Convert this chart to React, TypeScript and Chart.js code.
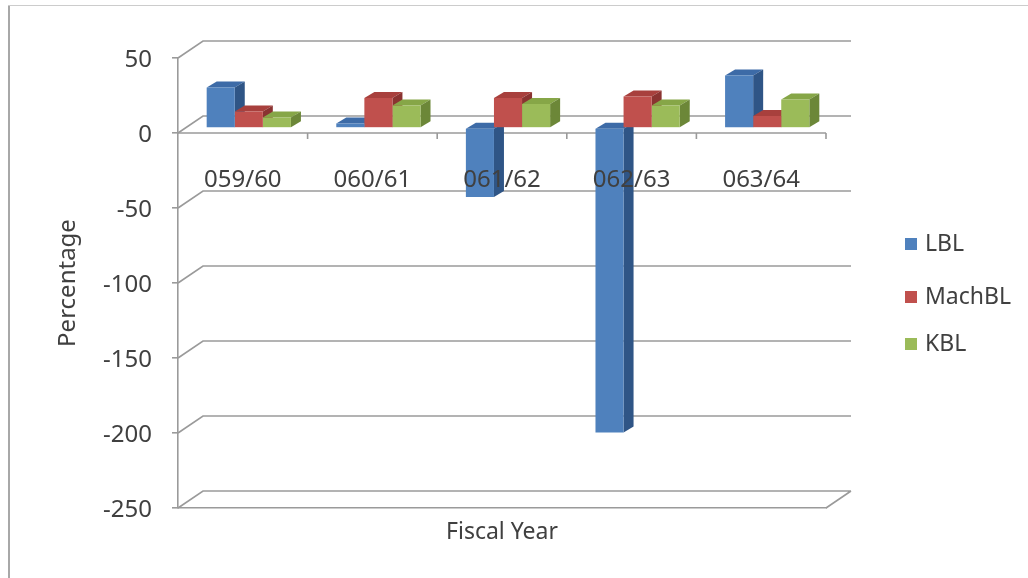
import React, { useEffect, useRef } from 'react';
import { Chart, registerables } from 'chart.js';

Chart.register(...registerables);

// ---- data ----
const categories = ['059/60', '060/61', '061/62', '062/63', '063/64'];
const seriesNames = ['LBL', 'MachBL', 'KBL'];
const lblValues = [27, 3, -46, -203, 35];
const machblValues = [11, 20, 20, 21, 8];
const kblValues = [7, 15, 16, 15, 19];
const yTicksMin = -250;
const yTicksMax = 50;
const yTicksStep = 50;

// ---- style ----
const W = 1028;
const H = 578;
const FONT = "'Noto Sans', 'DejaVu Sans', sans-serif";
const TEXT = '#404040';
const LINE = '#9a9a9a';

const faces = [
  { front: '#4F81BD', top: '#3d6ba7', side: '#2f5586' },
  { front: '#C0504D', top: '#a8403d', side: '#8a3331' },
  { front: '#9BBB59', top: '#86a647', side: '#6c8738' },
];

// oblique depth offsets (pixels)
const WALL = { dx: 25, dy: -17 };
const BAR_SHIFT = { dx: 6, dy: -5 };
const BAR_DEPTH = { dx: 10, dy: -6 };

function fillPoly(ctx: CanvasRenderingContext2D, pts: number[][], color: string) {
  ctx.beginPath();
  ctx.moveTo(pts[0][0], pts[0][1]);
  for (let i = 1; i < pts.length; i++) ctx.lineTo(pts[i][0], pts[i][1]);
  ctx.closePath();
  ctx.fillStyle = color;
  ctx.fill();
}

const depthPlugin = {
  id: 'depth3d',
  beforeDraw(chart: any) {
    const ctx: CanvasRenderingContext2D = chart.ctx;
    ctx.save();
    ctx.fillStyle = '#ffffff';
    ctx.fillRect(0, 0, chart.width, chart.height);
    // outer frame (left and top edges)
    ctx.strokeStyle = '#a8a8a8';
    ctx.lineWidth = 2;
    ctx.beginPath();
    ctx.moveTo(9, chart.height);
    ctx.lineTo(9, 5);
    ctx.stroke();
    ctx.strokeStyle = '#cccccc';
    ctx.lineWidth = 1.2;
    ctx.beginPath();
    ctx.moveTo(8, 5.5);
    ctx.lineTo(chart.width, 5.5);
    ctx.stroke();
    ctx.restore();
  },
  beforeDatasetsDraw(chart: any) {
    const ctx: CanvasRenderingContext2D = chart.ctx;
    const { left, right } = chart.chartArea;
    const x = chart.scales.x;
    const y = chart.scales.y;

    // back wall gridlines with their side-wall diagonals, plus floor
    ctx.save();
    ctx.strokeStyle = LINE;
    ctx.lineWidth = 1.6;
    y.ticks.forEach((t: any) => {
      const py = y.getPixelForValue(t.value);
      ctx.beginPath();
      ctx.moveTo(left, py);
      ctx.lineTo(left + WALL.dx, py + WALL.dy);
      ctx.lineTo(right + WALL.dx, py + WALL.dy);
      if (t.value === yTicksMin) {
        ctx.moveTo(right, py);
        ctx.lineTo(right + WALL.dx, py + WALL.dy);
      }
      ctx.stroke();
    });

    // front category axis at zero with tick marks between categories
    const y0 = y.getPixelForValue(0);
    ctx.beginPath();
    ctx.moveTo(left, y0);
    ctx.lineTo(right, y0);
    for (let i = 1; i <= categories.length; i++) {
      const bx = i < categories.length
        ? (x.getPixelForValue(i - 1) + x.getPixelForValue(i)) / 2
        : right;
      ctx.moveTo(bx, y0);
      ctx.lineTo(bx, y0 + 6);
    }
    ctx.stroke();
    ctx.restore();

    // top and side faces of the columns; the front faces are drawn by the
    // bar controller inside the same shifted frame
    ctx.save();
    ctx.translate(BAR_SHIFT.dx, BAR_SHIFT.dy);
    chart.data.datasets.forEach((ds: any, di: number) => {
      const meta = chart.getDatasetMeta(di);
      const f = faces[di];
      meta.data.forEach((bar: any) => {
        const p = bar.getProps(['x', 'y', 'base', 'width'], true);
        const l = p.x - p.width / 2;
        const r = p.x + p.width / 2;
        const top = Math.min(p.y, p.base);
        const bot = Math.max(p.y, p.base);
        const { dx, dy } = BAR_DEPTH;
        fillPoly(ctx, [[l, top], [l + dx, top + dy], [r + dx, top + dy], [r, top]], f.top);
        fillPoly(ctx, [[r, top], [r + dx, top + dy], [r + dx, bot + dy], [r, bot]], f.side);
      });
    });
  },
  afterDatasetsDraw(chart: any) {
    const ctx: CanvasRenderingContext2D = chart.ctx;
    ctx.restore();

    const x = chart.scales.x;
    const y = chart.scales.y;
    const y0 = y.getPixelForValue(0);

    // category labels sit just under the zero line, over the columns
    ctx.save();
    ctx.font = `24px ${FONT}`;
    ctx.fillStyle = TEXT;
    ctx.textAlign = 'center';
    ctx.textBaseline = 'middle';
    categories.forEach((c, i) => {
      ctx.fillText(c, x.getPixelForValue(i), y0 + 47);
    });

    // legend
    const legendY = [244, 297, 344];
    ctx.font = `23px ${FONT}`;
    ctx.textAlign = 'left';
    chart.data.datasets.forEach((ds: any, di: number) => {
      const cy = legendY[di];
      ctx.fillStyle = faces[di].front;
      ctx.fillRect(905, cy - 6, 12, 12);
      ctx.fillStyle = TEXT;
      ctx.fillText(ds.label, 925, cy);
    });
    ctx.restore();
  },
};

export default function App() {
  const canvasRef = useRef<HTMLCanvasElement | null>(null);

  useEffect(() => {
    document.body.style.margin = '0';
    const canvas = canvasRef.current;
    if (!canvas) return;
    const seriesValues = [lblValues, machblValues, kblValues];
    const chart = new Chart(canvas, {
      type: 'bar',
      data: {
        labels: categories,
        datasets: seriesNames.map((name, i) => ({
          label: name,
          data: seriesValues[i],
          backgroundColor: faces[i].front,
          borderWidth: 0,
          categoryPercentage: 0.65,
          barPercentage: 1,
        })),
      },
      options: {
        animation: false,
        responsive: false,
        devicePixelRatio: 1,
        layout: { padding: { top: 58, right: W - 826, left: 0, bottom: 0 } },
        plugins: {
          legend: { display: false },
          tooltip: { enabled: false },
        },
        scales: {
          x: {
            position: 'bottom',
            ticks: { display: false },
            grid: { display: false },
            border: { display: true, color: LINE, width: 1.6 },
            title: {
              display: true,
              text: 'Fiscal Year',
              color: TEXT,
              font: { family: FONT, size: 23 },
              padding: { top: 0, bottom: 32 },
            },
            afterFit: (scale: any) => {
              scale.height = H - 508;
            },
          },
          y: {
            min: yTicksMin,
            max: yTicksMax,
            ticks: {
              stepSize: yTicksStep,
              color: TEXT,
              font: { family: FONT, size: 24 },
              padding: 20,
              labelOffset: 2,
            },
            grid: {
              display: true,
              drawOnChartArea: false,
              drawTicks: true,
              tickLength: 6,
              color: LINE,
              lineWidth: 1.6,
            },
            border: { display: true, color: LINE, width: 1.6 },
            title: {
              display: true,
              text: 'Percentage',
              color: TEXT,
              font: { family: FONT, size: 24 },
              padding: { top: 54, bottom: 0 },
            },
            afterFit: (scale: any) => {
              scale.width = 178;
            },
          },
        },
      },
      plugins: [depthPlugin],
    });
    return () => chart.destroy();
  }, []);

  return (
    <div style={{ width: W, height: H }}>
      <canvas
        ref={canvasRef}
        width={W}
        height={H}
        style={{ display: 'block', width: W, height: H }}
      />
    </div>
  );
}
